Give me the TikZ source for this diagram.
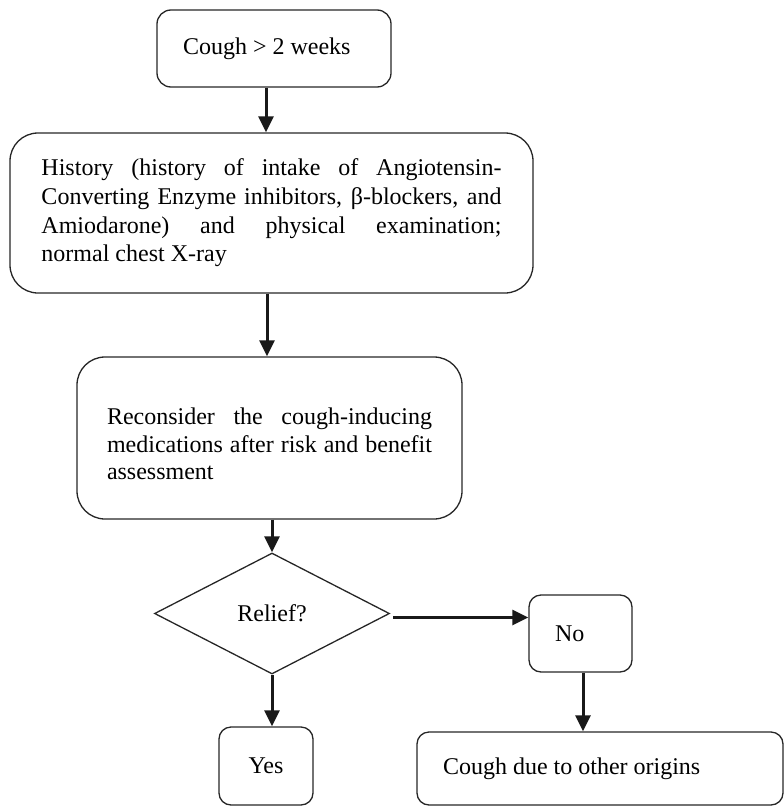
\documentclass[tikz,border=0pt]{standalone}
\usepackage{fontspec}
\setmainfont{Liberation Serif}
\usepackage{tikz}
\usetikzlibrary{shapes.geometric, arrows.meta}

% one justified line of fixed width
\newcommand{\fullline}[2]{\makebox[#1][s]{\spaceskip=0pt\xspaceskip=0pt #2}}

\begin{document}
\begin{tikzpicture}[
    x=1pt, y=-1pt,
    box/.style={rectangle, draw=black!85, line width=1.3pt, rounded corners=12pt, inner ysep=2pt, align=left, font=\fontsize{24}{27.6}\selectfont, execute at begin node={\spaceskip=0pt\xspaceskip=0pt}},
    bigbox/.style={box, rounded corners=28pt},
    decision/.style={diamond, draw=black!85, line width=1.3pt, inner sep=0pt, minimum width=235pt, minimum height=121pt, font=\fontsize{24}{27.6}\selectfont},
    arrow/.style={line width=3pt, draw=black!90, -{Triangle[length=16pt, width=15pt]}}
]
    \useasboundingbox (0,0) rectangle (784,806);

    % Nodes
    \node[box, rounded corners=14pt, text width=182pt, inner xsep=26pt, minimum height=77pt] (cough) at (274,48.5) {Cough > 2 weeks};
    \node[bigbox, text width=460pt, inner xsep=31.5pt, minimum height=160pt, font=\fontsize{24}{28.7}\selectfont] (hist) at (271.5,213) {%
        \fullline{460pt}{History (history of intake of Angiotensin-}\\
        \fullline{460pt}{Converting Enzyme inhibitors, β-blockers, and}\\
        \fullline{460pt}{Amiodarone) and physical examination;}\\
        normal chest X-ray\par\vskip12pt};
    \node[bigbox, text width=325pt, inner xsep=30pt, minimum height=162pt] (recon) at (269.5,438) {%
        \rule{0pt}{29pt}\fullline{325pt}{Reconsider the cough-inducing}\\
        \fullline{325pt}{medications after risk and benefit}\\
        assessment};
    \node[decision] (relief) at (272,613.5) {Relief?};
    \node[box, align=center, minimum width=94pt, minimum height=78pt] (yes) at (266,766) {Yes};
    \node[box, text width=51pt, inner xsep=26pt, minimum height=77pt] (no) at (580.5,633.5) {No};
    \node[box, text width=314pt, inner xsep=26pt, minimum height=73pt] (other) at (600,768.5) {Cough due to other origins};

    % Paths
    \draw[arrow] ([xshift=-8pt]cough.south) -- ([xshift=-8pt]cough.south |- hist.north);
    \draw[arrow] ([xshift=-4.5pt]hist.south) -- ([xshift=-4.5pt]hist.south |- recon.north);
    \draw[arrow] (recon.south -| relief.north) -- (relief.north);
    \draw[arrow] (relief.south) -- (relief.south |- yes.north);
    \draw[arrow] ([xshift=3pt, yshift=-4pt]relief.east) -- ([yshift=-4pt]relief.east -| no.west);
    \draw[arrow] ([xshift=2.5pt]no.south) -- ([xshift=2.5pt]no.south |- other.north);
\end{tikzpicture}
\end{document}
